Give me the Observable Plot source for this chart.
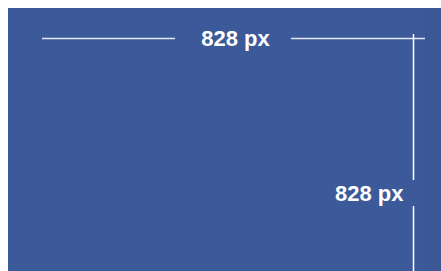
<!DOCTYPE html>
<html>
<head>
<meta charset="utf-8">
<script src="https://cdn.jsdelivr.net/npm/d3@7"></script>
<script src="https://cdn.jsdelivr.net/npm/@observablehq/plot@0.6"></script>
<style>
  html, body { margin: 0; padding: 0; background: #ffffff; }
</style>
</head>
<body>
<div id="chart"></div>
<script>
// Image placeholder: a blue panel annotated with its dimensions
const dimensionNames = ["width", "height"];
const dimensionValues = [828, 828];
const dimensionLabels = dimensionValues.map(v => `${v} px`);

const W = 441, H = 271;
const panel = [{x1: 8, x2: W, y1: 8, y2: H}];
const shade = [{x1: 425, x2: W, y1: 8, y2: H}];

// horizontal annotation (width) — split around its label
const hSegs = [{x1: 42, x2: 175, y: 38}, {x1: 291, x2: 425, y: 38}];
const hLabel = [{x: 235, y: 38, text: dimensionLabels[0]}];
// vertical annotation (height)
const vSegs = [{x: 413, y1: 34, y2: 180}, {x: 413, y1: 206, y2: H}];
const vLabel = [{x: 403, y: 193, text: dimensionLabels[1]}];

const chart = Plot.plot({
  width: W,
  height: H,
  margin: 0,
  x: {domain: [0, W], range: [0, W], axis: null},
  y: {domain: [0, H], range: [0, H], axis: null},
  style: {background: "#ffffff"},
  marks: [
    Plot.rect(panel, {x1: "x1", x2: "x2", y1: "y1", y2: "y2", fill: "#3c5a99"}),
    Plot.rect(shade, {x1: "x1", x2: "x2", y1: "y1", y2: "y2", fill: "#3a5692", fillOpacity: 0.6}),
    Plot.ruleY(hSegs, {y: "y", x1: "x1", x2: "x2", stroke: "#e4e8f2", strokeWidth: 1.5}),
    Plot.ruleX(vSegs, {x: "x", y1: "y1", y2: "y2", stroke: "#ffffff", strokeWidth: 1.5}),
    Plot.text(hLabel, {x: "x", y: "y", text: "text", fill: "#ffffff", fontSize: 22, fontWeight: "bold", fontFamily: "Liberation Sans, Arial, sans-serif", textAnchor: "middle"}),
    Plot.text(vLabel, {x: "x", y: "y", text: "text", fill: "#ffffff", fontSize: 22, fontWeight: "bold", fontFamily: "Liberation Sans, Arial, sans-serif", textAnchor: "end"})
  ]
});
document.getElementById("chart").appendChild(chart);
</script>
</body>
</html>
